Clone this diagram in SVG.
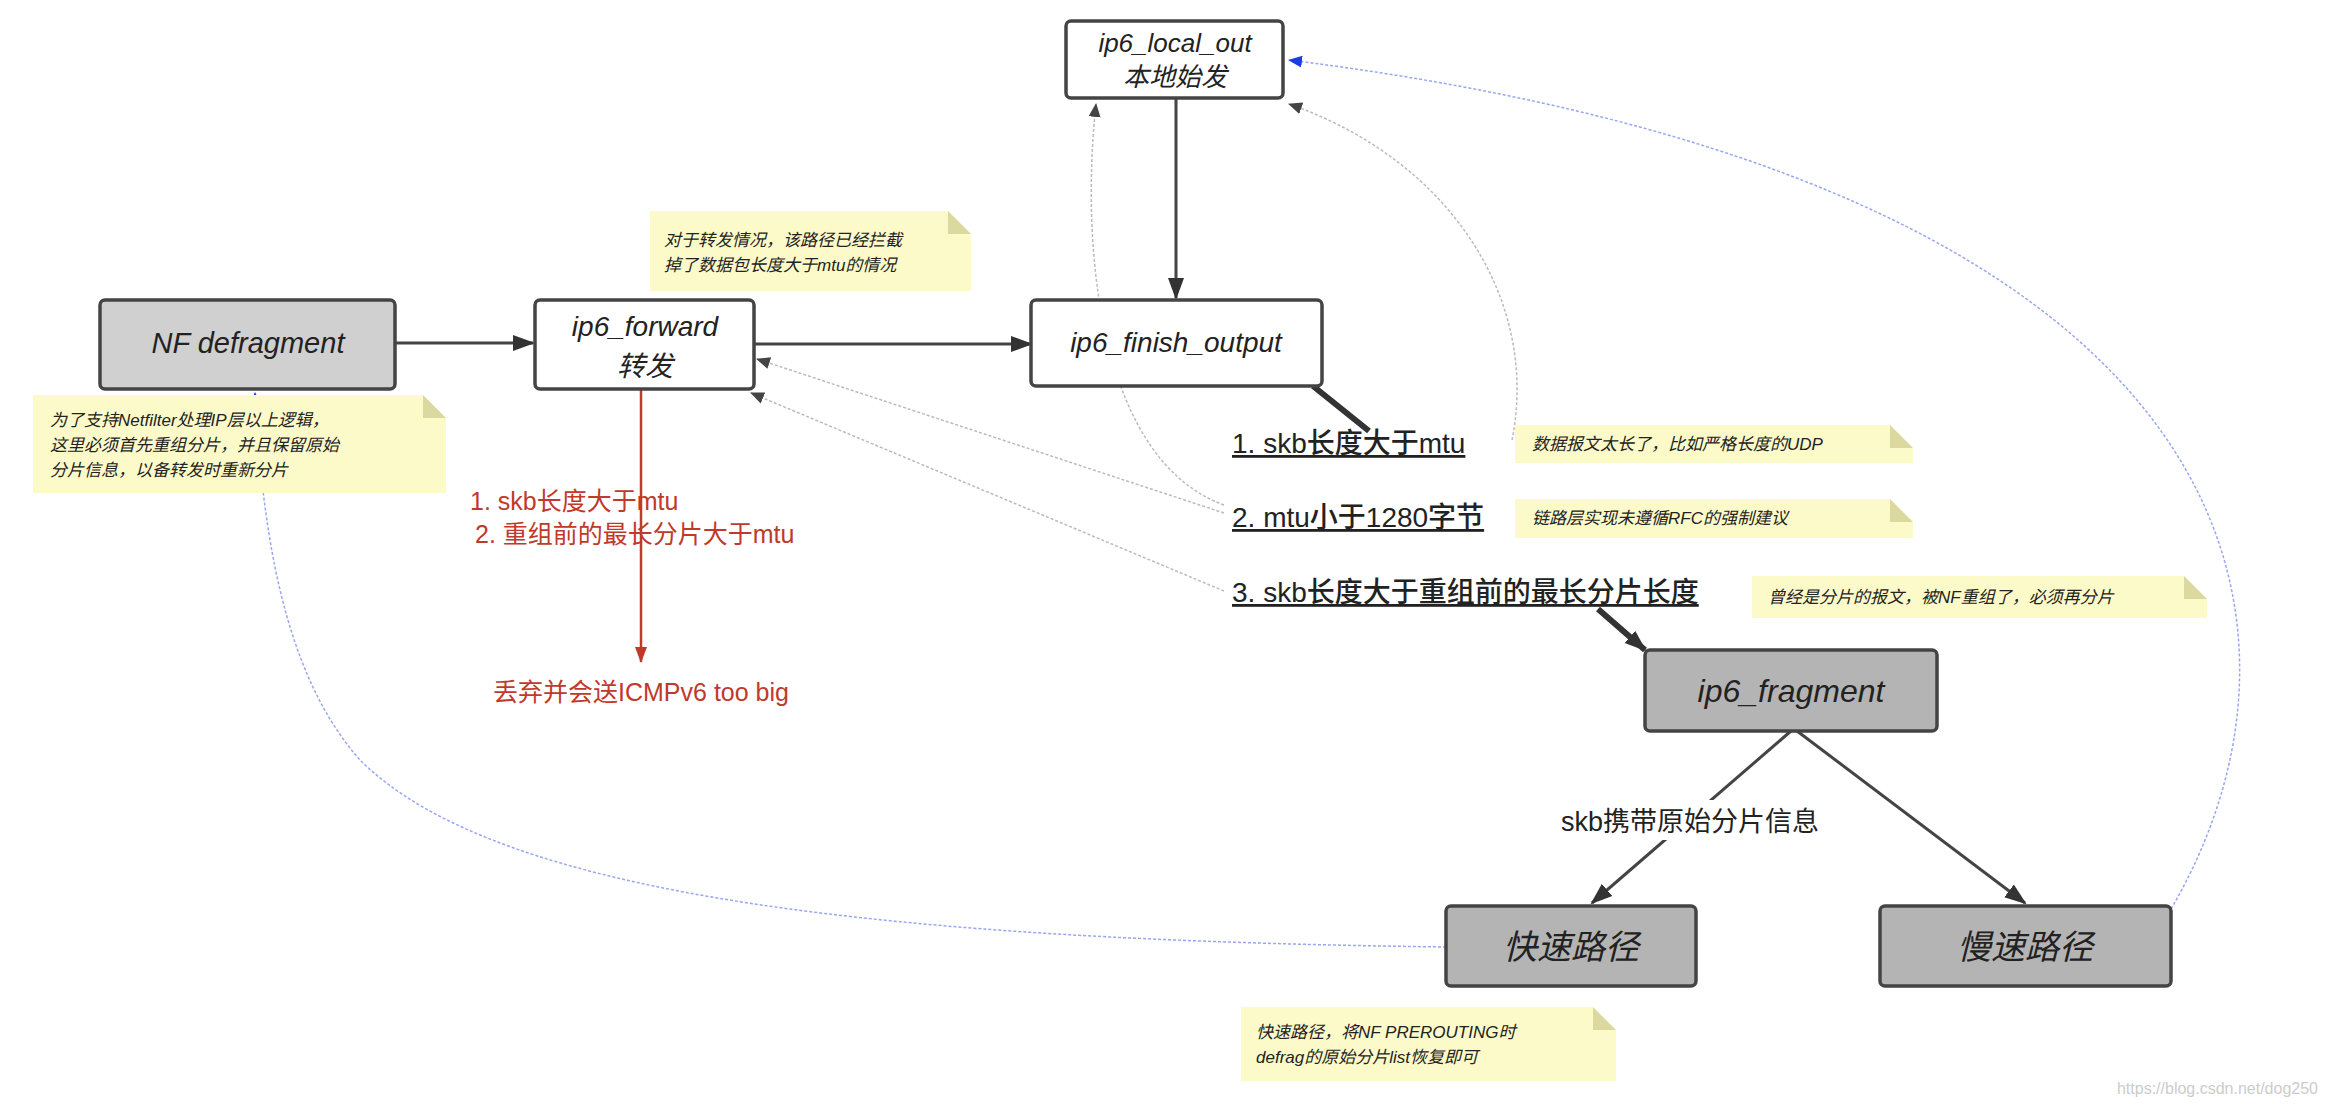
<svg xmlns="http://www.w3.org/2000/svg" width="2328" height="1104" viewBox="0 0 2328 1104">
<style>
.n{stroke:#444;stroke-width:3.5}
.w{fill:#fff}.g1{fill:#d0d0d0}.g2{fill:#b4b4b4}
.t{font-family:"Liberation Sans","Noto Sans CJK SC",sans-serif;font-style:italic;fill:#222;text-anchor:middle}
.note{fill:#fcfac8}
.nt{font-family:"Liberation Sans","Noto Sans CJK SC",sans-serif;font-style:italic;font-size:17px;fill:#222}
.lab{font-family:"Liberation Sans","Noto Sans CJK SC",sans-serif;font-size:28px;font-weight:500;fill:#222;text-decoration:underline}
.red{font-family:"Liberation Sans","Noto Sans CJK SC",sans-serif;font-size:25px;fill:#c0392b}
.c{fill:none;stroke:#444;stroke-width:3}
.d{fill:none;stroke:#bbb;stroke-width:1.5;stroke-dasharray:3 2}
.b{fill:none;stroke:#99a6f0;stroke-width:1.5;stroke-dasharray:3 2}
</style>
<defs>
<marker id="ag" markerWidth="14" markerHeight="14" refX="13" refY="7" orient="auto" markerUnits="userSpaceOnUse" viewBox="0 0 14 14"><path d="M0,1L14,7L0,13z" fill="#444"/></marker>
<marker id="ab" markerWidth="14" markerHeight="14" refX="13" refY="7" orient="auto" markerUnits="userSpaceOnUse" viewBox="0 0 14 14"><path d="M0,1L14,7L0,13z" fill="#1a3ee0"/></marker>
<marker id="ar" markerWidth="16" markerHeight="16" refX="15" refY="8" orient="auto" markerUnits="userSpaceOnUse" viewBox="0 0 16 16"><path d="M0,2L16,8L0,14z" fill="#c0392b"/></marker>
<marker id="ak" markerWidth="22" markerHeight="22" refX="20" refY="11" orient="auto" markerUnits="userSpaceOnUse" viewBox="0 0 22 22"><path d="M0,3L22,11L0,19z" fill="#333"/></marker>
</defs>
<g id="connectors">
<path class="c" d="M395,343H533" marker-end="url(#ak)"/>
<path class="c" d="M754,344H1031" marker-end="url(#ak)"/>
<path class="c" d="M1176,98V298" marker-end="url(#ak)"/>
<path d="M1313,386L1369,431" stroke="#333" stroke-width="6"/>
<path d="M1598,609L1645,650" stroke="#333" stroke-width="6" marker-end="url(#ak)"/>
<path class="c" d="M1791,731L1592,903" marker-end="url(#ak)"/>
<path class="c" d="M1797,731L2025,903" marker-end="url(#ak)"/>
<path d="M641,389V662" stroke="#c0392b" stroke-width="2.5" marker-end="url(#ar)"/>
<path class="d" d="M1512,440C1540,300 1450,160 1289,104" marker-end="url(#ag)"/>
<path class="d" d="M1224,505C1100,460 1080,250 1096,104" marker-end="url(#ag)"/>
<path class="d" d="M1224,513L757,359" marker-end="url(#ag)"/>
<path class="d" d="M1224,591L751,393" marker-end="url(#ag)"/>
<path class="b" d="M2171,909C2340,620 2250,180 1289,60" marker-end="url(#ab)"/>
<path class="b" d="M1446,947C900,940 500,900 360,760C280,670 262,520 255,393" marker-end="url(#ab)"/>
</g>
<g id="n_local"><rect class="n w" x="1066" y="21" width="217" height="77" rx="5"/><text class="t" x="1175" y="52" font-size="26">ip6_local_out</text><text class="t" x="1175" y="86" font-size="26">本地始发</text></g>
<g id="n_finish"><rect class="n w" x="1031" y="300" width="291" height="86" rx="5"/><text class="t" x="1176" y="352" font-size="28">ip6_finish_output</text></g>
<g id="n_forward"><rect class="n w" x="535" y="300" width="219" height="89" rx="5"/><text class="t" x="645" y="336" font-size="28">ip6_forward</text><text class="t" x="645" y="376" font-size="28">转发</text></g>
<g id="n_nf"><rect class="n g1" x="100" y="300" width="295" height="89" rx="5"/><text class="t" x="248" y="353" font-size="29">NF defragment</text></g>
<g id="n_frag"><rect class="n g2" x="1645" y="650" width="292" height="81" rx="5"/><text class="t" x="1791" y="702" font-size="32">ip6_fragment</text></g>
<g id="n_fast"><rect class="n g2" x="1446" y="906" width="250" height="80" rx="5"/><text class="t" x="1571" y="959" font-size="34">快速路径</text></g>
<g id="n_slow"><rect class="n g2" x="1880" y="906" width="291" height="80" rx="5"/><text class="t" x="2025" y="959" font-size="34">慢速路径</text></g>
<g id="note1"><path class="note" d="M650,211H948L971,234V291H650z"/><path d="M948,211V234H971z" fill="#dcd9a0"/><text class="nt" x="664" y="246">对于转发情况，该路径已经拦截</text><text class="nt" x="664" y="271">掉了数据包长度大于mtu的情况</text></g>
<g id="note2"><path class="note" d="M33,395H423L446,418V493H33z"/><path d="M423,395V418H446z" fill="#dcd9a0"/><text class="nt" x="50" y="426">为了支持Netfilter处理IP层以上逻辑，</text><text class="nt" x="50" y="451">这里必须首先重组分片，并且保留原始</text><text class="nt" x="50" y="476">分片信息，以备转发时重新分片</text></g>
<g id="note3"><path class="note" d="M1515,425H1890L1913,448V463H1515z"/><path d="M1890,425V448H1913z" fill="#dcd9a0"/><text class="nt" x="1532" y="450">数据报文太长了，比如严格长度的UDP</text></g>
<g id="note4"><path class="note" d="M1515,499H1890L1913,522V538H1515z"/><path d="M1890,499V522H1913z" fill="#dcd9a0"/><text class="nt" x="1532" y="524">链路层实现未遵循RFC的强制建议</text></g>
<g id="note5"><path class="note" d="M1752,576H2184L2207,599V618H1752z"/><path d="M2184,576V599H2207z" fill="#dcd9a0"/><text class="nt" x="1768" y="603">曾经是分片的报文，被NF重组了，必须再分片</text></g>
<g id="note6"><path class="note" d="M1241,1007H1593L1616,1030V1081H1241z"/><path d="M1593,1007V1030H1616z" fill="#dcd9a0"/><text class="nt" x="1256" y="1038">快速路径，将NF PREROUTING时</text><text class="nt" x="1256" y="1063">defrag的原始分片list恢复即可</text></g>
<g id="labels">
<text class="lab" x="1232" y="453">1. skb长度大于mtu</text>
<text class="lab" x="1232" y="527">2. mtu小于1280字节</text>
<text class="lab" x="1232" y="602">3. skb长度大于重组前的最长分片长度</text>
<text class="red" x="470" y="510">1. skb长度大于mtu</text>
<text class="red" x="475" y="543">2. 重组前的最长分片大于mtu</text>
<text class="red" x="641" y="701" text-anchor="middle">丢弃并会送ICMPv6 too big</text>
<rect x="1545" y="800" width="290" height="40" fill="#fff"/>
<text x="1690" y="831" font-family="Liberation Sans,Noto Sans CJK SC,sans-serif" font-size="27" fill="#222" text-anchor="middle">skb携带原始分片信息</text>
<text x="2318" y="1094" font-family="Liberation Sans,sans-serif" font-size="16" fill="#ccc" text-anchor="end">https://blog.csdn.net/dog250</text>
</g>
</svg>
